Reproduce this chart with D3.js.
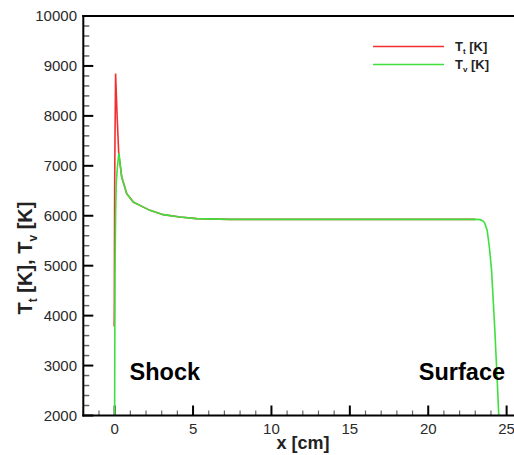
<!DOCTYPE html>
<html><head><meta charset="utf-8">
<script src="https://cdn.jsdelivr.net/npm/d3@7"></script>
<style>body{margin:0;background:#fff}svg{display:block;font-family:"Liberation Sans",Arial,sans-serif}</style>
</head><body><svg id="c" width="514" height="455"></svg>
<script>
// Data
const xTicks = [0, 5, 10, 15, 20, 25];
const yTicks = [2000, 3000, 4000, 5000, 6000, 7000, 8000, 9000, 10000];
const ttX = [-0.03, -0.02, 0.0, 0.02, 0.06, 0.15, 0.26, 0.45, 0.77, 1.19, 1.61, 2.25, 3.1, 4.16, 5.23, 7.35, 10, 15, 20, 23.0];
const ttY = [3780, 4100, 6600, 7500, 8850, 8050, 7250, 6776, 6443, 6275, 6208, 6108, 6022, 5974, 5942, 5928, 5928, 5928, 5928, 5928];
const tvX = [0.0, 0.0, 0.02, 0.06, 0.1, 0.18, 0.27, 0.45, 0.77, 1.19, 1.61, 2.25, 3.1, 4.16, 5.23, 7.35, 10, 15, 20, 23.0, 23.3, 23.51, 23.62, 23.76, 23.9, 24.04, 24.25, 24.4, 24.5];
const tvY = [2000, 2200, 4800, 6000, 6650, 7000, 7250, 6776, 6443, 6275, 6208, 6108, 6022, 5974, 5942, 5928, 5928, 5928, 5928, 5928, 5922, 5894, 5842, 5707, 5373, 4906, 3703, 2701, 2000];
const legendLabels = [["T", "t", " [K]"], ["T", "v", " [K]"]];
const annotations = [["Shock", 0.95], ["Surface", 19.4]];

const svg = d3.select("#c");
const x = d3.scaleLinear().domain([-2, 26]).range([83.3, 522.3]);
const y = d3.scaleLinear().domain([2000, 10000]).range([415.5, 16]);

// ticks (inward)
const g = svg.append("g");
const yMinor = d3.range(2000, 10001, 200).filter(v => v % 1000 !== 0);
g.selectAll(".ym").data(yMinor).join("line")
  .attr("x1", x(-2)).attr("x2", x(-2) + 6).attr("y1", d => y(d)).attr("y2", d => y(d))
  .attr("stroke", "#666").attr("stroke-width", 1.5);
g.selectAll(".yM").data(yTicks).join("line")
  .attr("x1", x(-2)).attr("x2", x(-2) + 10).attr("y1", d => y(d)).attr("y2", d => y(d))
  .attr("stroke", "#000").attr("stroke-width", 2);
const xMinor = d3.range(-2, 26, 1).filter(v => v % 5 !== 0);
g.selectAll(".xm").data(xMinor).join("line")
  .attr("x1", d => x(d)).attr("x2", d => x(d)).attr("y1", y(2000)).attr("y2", y(2000) - 5)
  .attr("stroke", "#666").attr("stroke-width", 1.2);
g.selectAll(".xM").data(xTicks).join("line")
  .attr("x1", d => x(d)).attr("x2", d => x(d)).attr("y1", y(2000)).attr("y2", y(2000) - 10)
  .attr("stroke", "#000").attr("stroke-width", 2);

// tick labels
g.selectAll(".yl").data(yTicks).join("text")
  .attr("x", 77).attr("y", d => y(d)).attr("dy", "0.36em")
  .attr("text-anchor", "end").attr("font-size", 15).attr("fill", "#2a2a2a").text(d => d);
g.selectAll(".xl").data(xTicks).join("text")
  .attr("x", d => x(d)).attr("y", 433.5)
  .attr("text-anchor", "middle").attr("font-size", 15).attr("fill", "#2a2a2a").text(d => d);

// lines
const line = d3.line().x(d => x(d[0])).y(d => y(d[1]));
svg.append("path").datum(ttX.map((v, i) => [v, ttY[i]])).attr("d", line)
  .attr("fill", "none").attr("stroke", "#f03030").attr("stroke-width", 1.6);
svg.append("path").datum(tvX.map((v, i) => [v, tvY[i]])).attr("d", line)
  .attr("fill", "none").attr("stroke", "#3ee03e").attr("stroke-width", 1.6);

// axes lines
svg.append("line").attr("x1", x(-2)).attr("x2", x(-2)).attr("y1", y(10000) - 1).attr("y2", y(2000) + 1)
  .attr("stroke", "#000").attr("stroke-width", 2);
svg.append("line").attr("x1", x(-2) - 1).attr("x2", 514).attr("y1", y(2000)).attr("y2", y(2000))
  .attr("stroke", "#000").attr("stroke-width", 2);
svg.append("line").attr("x1", x(-2) - 1).attr("x2", 514).attr("y1", y(10000)).attr("y2", y(10000))
  .attr("stroke", "#000").attr("stroke-width", 2);

// axis titles
svg.append("text").attr("x", 303).attr("y", 449).attr("text-anchor", "middle")
  .attr("font-size", 18).attr("font-weight", "bold").attr("fill", "#222").text("x [cm]");
const yt = svg.append("text").attr("transform", "translate(32,258) rotate(-90)")
  .attr("text-anchor", "middle").attr("font-size", 20).attr("font-weight", "bold").attr("fill", "#222");
yt.append("tspan").text("T");
yt.append("tspan").attr("font-size", 12).attr("dy", 5).text("t");
yt.append("tspan").attr("dy", -5).text(" [K], T");
yt.append("tspan").attr("font-size", 12).attr("dy", 5).text("v");
yt.append("tspan").attr("dy", -5).text(" [K]");

// legend
const colors = ["#f03030", "#3ee03e"];
legendLabels.forEach((lab, i) => {
  const ly = 46.5 + i * 18;
  svg.append("line").attr("x1", 373).attr("x2", 444).attr("y1", ly).attr("y2", ly)
    .attr("stroke", colors[i]).attr("stroke-width", 1.6);
  const t = svg.append("text").attr("x", 455).attr("y", ly + 4.5)
    .attr("font-size", 13).attr("font-weight", "bold").attr("fill", "#222");
  t.append("tspan").text(lab[0]);
  t.append("tspan").attr("font-size", 8).attr("dy", 3).text(lab[1]);
  t.append("tspan").attr("dy", -3).text(lab[2]);
});

// annotations
annotations.forEach(a => {
  svg.append("text").attr("x", x(a[1])).attr("y", 380).attr("font-size", 23.5)
    .attr("font-weight", "bold").attr("fill", "#000").text(a[0]);
});
</script></body></html>
